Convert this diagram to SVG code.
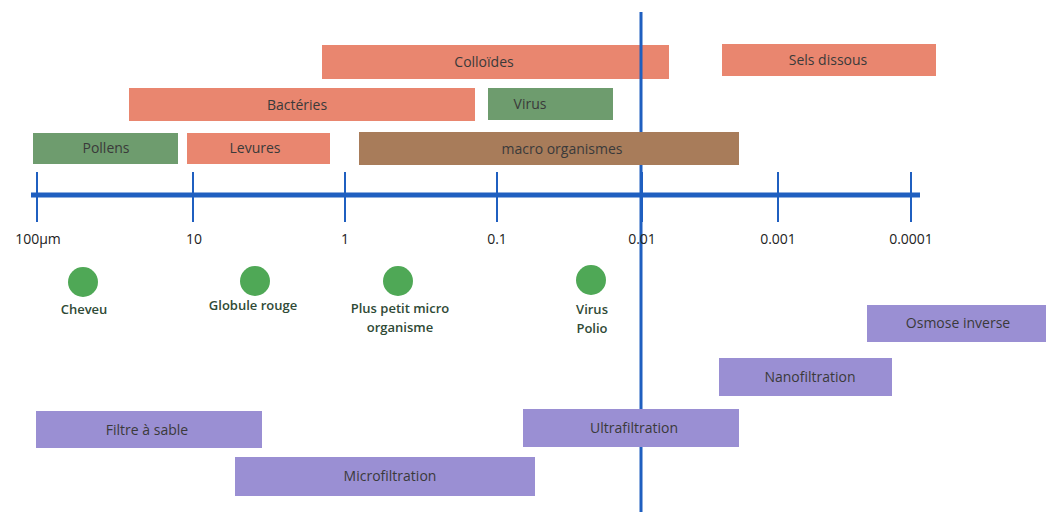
<svg xmlns="http://www.w3.org/2000/svg" width="1046" height="512" viewBox="0 0 1046 512">
<style>
text{font-family:"Open Sans","Liberation Sans",sans-serif;}
.lbl{font-size:14px;fill:#3a3a3a;text-anchor:middle;}
.red{fill:#e9866f;}
.grn{fill:#6e9c6e;}
.brn{fill:#a87c5a;}
.pur{fill:#9a8fd3;}
.dot{fill:#4fa856;}
.cap{font-size:13px;font-weight:600;fill:#2f4a36;text-anchor:middle;}
.ax{font-size:14px;fill:#222;text-anchor:middle;}
.axis{stroke:#1f5fc0;fill:none;}
</style>
<rect width="1046" height="512" fill="#ffffff"/>
<g id="colloides"><rect class="red" x="322" y="45" width="347" height="34"/><text class="lbl" x="484" y="67">Colloïdes</text></g>
<g id="connectors">
<line class="axis" x1="641" y1="12" x2="641" y2="512" stroke-width="3"/>
<line class="axis" x1="31" y1="195" x2="920" y2="195" stroke-width="5"/>
<g stroke-width="2" class="axis">
<line x1="37" y1="172" x2="37" y2="222"/>
<line x1="193" y1="172" x2="193" y2="222"/>
<line x1="345" y1="172" x2="345" y2="222"/>
<line x1="497" y1="172" x2="497" y2="222"/>
<line x1="642" y1="172" x2="642" y2="222"/>
<line x1="778" y1="172" x2="778" y2="222"/>
<line x1="911" y1="172" x2="911" y2="222"/>
</g>
</g>
<g id="axis-labels">
<text class="ax" x="38" y="244">100µm</text>
<text class="ax" x="194" y="244">10</text>
<text class="ax" x="345" y="244">1</text>
<text class="ax" x="497" y="244">0.1</text>
<text class="ax" x="642" y="244">0.01</text>
<text class="ax" x="778" y="244">0.001</text>
<text class="ax" x="911" y="244">0.0001</text>
</g>
<g id="sels"><rect class="red" x="722" y="44" width="214" height="32"/><text class="lbl" x="828" y="65">Sels dissous</text></g>
<g id="bacteries"><rect class="red" x="129" y="88" width="346" height="33"/><text class="lbl" x="297" y="110">Bactéries</text></g>
<g id="virus"><rect class="grn" x="488" y="88" width="125" height="32"/><text class="lbl" x="530" y="109">Virus</text></g>
<g id="pollens"><rect class="grn" x="33" y="133" width="145" height="31"/><text class="lbl" x="106" y="153">Pollens</text></g>
<g id="levures"><rect class="red" x="187" y="133" width="143" height="31"/><text class="lbl" x="255" y="153">Levures</text></g>
<g id="macro"><rect class="brn" x="359" y="132" width="380" height="33"/><text class="lbl" x="562" y="154">macro organismes</text></g>
<g id="cheveu"><circle class="dot" cx="83" cy="282" r="15"/><text class="cap" x="84" y="314">Cheveu</text></g>
<g id="globule"><circle class="dot" cx="255" cy="281" r="15"/><text class="cap" x="253" y="310">Globule rouge</text></g>
<g id="petit"><circle class="dot" cx="398" cy="281" r="15"/><text class="cap" x="400" y="313">Plus petit micro</text><text class="cap" x="400" y="332">organisme</text></g>
<g id="polio"><circle class="dot" cx="591" cy="280" r="15"/><text class="cap" x="592" y="314">Virus</text><text class="cap" x="592" y="333">Polio</text></g>
<g id="osmose"><rect class="pur" x="867" y="305" width="179" height="37"/><text class="lbl" x="958" y="328">Osmose inverse</text></g>
<g id="nano"><rect class="pur" x="719" y="358" width="173" height="38"/><text class="lbl" x="810" y="382">Nanofiltration</text></g>
<g id="ultra"><rect class="pur" x="523" y="409" width="216" height="38"/><text class="lbl" x="634" y="433">Ultrafiltration</text></g>
<g id="sable"><rect class="pur" x="36" y="411" width="226" height="37"/><text class="lbl" x="147" y="435">Filtre à sable</text></g>
<g id="micro"><rect class="pur" x="235" y="457" width="300" height="39"/><text class="lbl" x="390" y="481">Microfiltration</text></g>
</svg>
